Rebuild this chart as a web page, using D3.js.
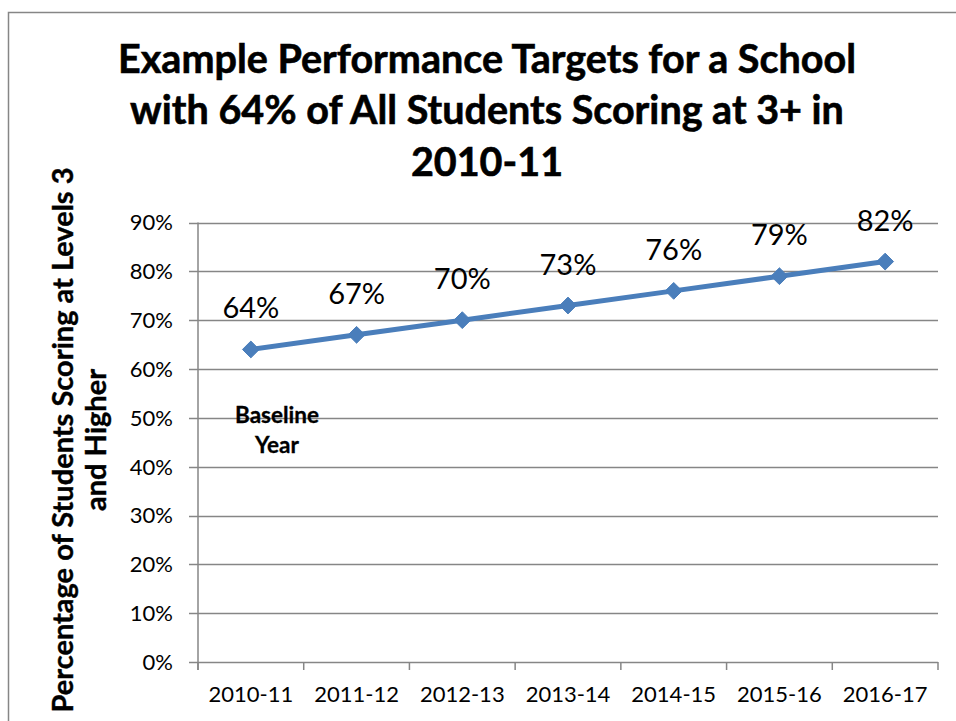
<!DOCTYPE html>
<html>
<head>
<meta charset="utf-8">
<script src="https://cdn.jsdelivr.net/npm/d3@7"></script>
<style>
  html, body { margin: 0; padding: 0; background: #fff; }
  svg { display: block; }
  text { font-family: Lato, "Open Sans", sans-serif; fill: #000; }
</style>
</head>
<body>
<svg id="chart" width="956" height="721"></svg>
<script>
// Performance target series
const years = ["2010-11", "2011-12", "2012-13", "2013-14", "2014-15", "2015-16", "2016-17"];
const targets = [64, 67, 70, 73, 76, 79, 82];
const yTicks = [0, 10, 20, 30, 40, 50, 60, 70, 80, 90];
const titleLines = ["Example Performance Targets for a School", "with 64% of All Students Scoring at 3+ in", "2010-11"];
const yTitleLines = ["Percentage of Students Scoring at Levels 3", "and Higher"];
const noteLines = ["Baseline", "Year"];

const svg = d3.select("#chart");
const W = 956, H = 721;
const plot = { left: 198, right: 938, top: 222.5, bottom: 662 };
const gridColor = "#868686";
const seriesColor = "#4A7EBB";

// outer frame
svg.append("rect")
  .attr("x", 8.5).attr("y", 12.5)
  .attr("width", W + 10).attr("height", H + 10)
  .attr("fill", "none").attr("stroke", gridColor).attr("stroke-width", 1.5);

const x = d3.scaleBand().domain(years).range([plot.left, plot.right]);
const y = d3.scaleLinear().domain([0, 90]).range([plot.bottom, plot.top]);

// horizontal gridlines with left tick stubs
svg.append("g").selectAll("line").data(yTicks).join("line")
  .attr("x1", plot.left - 9).attr("x2", plot.right)
  .attr("y1", d => Math.round(y(d)) + 0.5).attr("y2", d => Math.round(y(d)) + 0.5)
  .attr("stroke", gridColor).attr("stroke-width", 1.5);

// y-axis line
svg.append("line")
  .attr("x1", plot.left).attr("x2", plot.left)
  .attr("y1", plot.top).attr("y2", plot.bottom + 8)
  .attr("stroke", gridColor).attr("stroke-width", 1.5);

// x-axis category boundary ticks
const xBounds = years.map(d => x(d)).concat([plot.right]);
svg.append("g").selectAll("line").data(xBounds).join("line")
  .attr("x1", d => d).attr("x2", d => d)
  .attr("y1", plot.bottom).attr("y2", plot.bottom + 8)
  .attr("stroke", gridColor).attr("stroke-width", 1.5);

// y tick labels
svg.append("g").selectAll("text").data(yTicks).join("text")
  .attr("x", plot.left - 25).attr("y", d => y(d))
  .attr("dy", "0.36em").attr("text-anchor", "end")
  .style("font-size", "22px")
  .text(d => d + "%");

// x tick labels
svg.append("g").selectAll("text").data(years).join("text")
  .attr("x", d => x(d) + x.bandwidth() / 2).attr("y", 702)
  .attr("text-anchor", "middle")
  .style("font-size", "22px")
  .text(d => d);

// title
svg.append("g").selectAll("text").data(titleLines).join("text")
  .attr("x", 487).attr("y", (d, i) => 73 + i * 51.3)
  .attr("text-anchor", "middle")
  .style("font-size", "39.5px").style("font-weight", "bold")
  .style("stroke", "#000").style("stroke-width", "0.6px")
  .text(d => d);

// y-axis title
svg.append("g").selectAll("text").data(yTitleLines).join("text")
  .attr("transform", (d, i) => `translate(${73 + i * 33},440) rotate(-90)`)
  .attr("text-anchor", "middle")
  .style("font-size", "29px").style("font-weight", "bold")
  .style("stroke", "#000").style("stroke-width", "0.4px")
  .text(d => d);

// series line
const pts = years.map((d, i) => [x(d) + x.bandwidth() / 2, y(targets[i])]);
svg.append("path")
  .attr("d", d3.line()(pts))
  .attr("fill", "none").attr("stroke", seriesColor).attr("stroke-width", 5)
  .attr("stroke-linejoin", "round");

// diamond markers
const diamond = d3.symbol().type(d3.symbolDiamond2).size(180);
svg.append("g").selectAll("path").data(pts).join("path")
  .attr("transform", d => `translate(${d[0]},${d[1]})`)
  .attr("d", diamond)
  .attr("fill", seriesColor).attr("stroke", seriesColor).attr("stroke-width", 1);

// data labels
svg.append("g").selectAll("text").data(targets).join("text")
  .attr("x", (d, i) => pts[i][0]).attr("y", (d, i) => pts[i][1] - 31)
  .attr("text-anchor", "middle")
  .style("font-size", "29px")
  .text(d => d + "%");

// baseline note
svg.append("g").selectAll("text").data(noteLines).join("text")
  .attr("x", 277).attr("y", (d, i) => 423 + i * 30)
  .attr("text-anchor", "middle")
  .style("font-size", "22.5px").style("font-weight", "bold")
  .style("stroke", "#000").style("stroke-width", "0.3px")
  .text(d => d);
</script>
</body>
</html>
